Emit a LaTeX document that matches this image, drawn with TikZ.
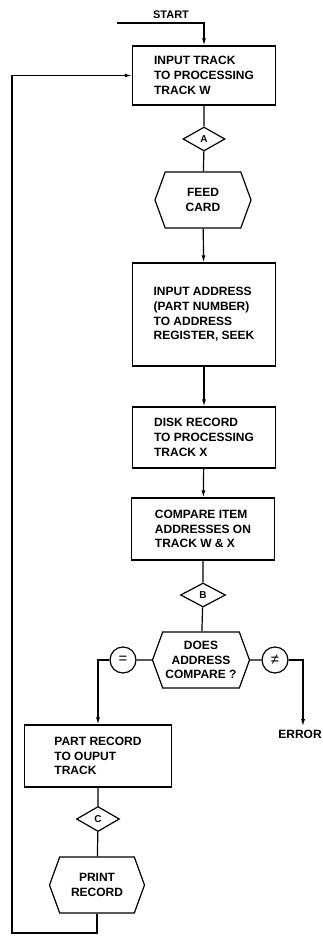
\documentclass[tikz,border=0pt]{standalone}
\usepackage{fontspec}
\setmainfont{Liberation Sans}
\usetikzlibrary{shapes.geometric, shapes.symbols, arrows.meta}
\tikzstyle{box}=[draw, line width=1.2pt, inner sep=0, align=left, font=\fontsize{12}{14.7}\selectfont\bfseries]
\tikzstyle{hexa}=[draw, line width=1.2pt, shape=signal, signal from=nowhere, signal to=west and east, signal pointer angle=140, inner sep=0, align=center, font=\fontsize{12}{14.5}\selectfont\bfseries]
\tikzstyle{conn}=[draw, line width=1.2pt, shape=diamond, inner sep=0, minimum width=42pt, minimum height=24pt, font=\fontsize{10}{12}\selectfont\bfseries]
\tikzstyle{rnd}=[draw, line width=1.2pt, shape=circle, inner sep=0, minimum size=26pt, font=\fontsize{15}{15}\selectfont]
\tikzstyle{arr}=[line width=1.2pt, -{Latex[length=7pt, width=4pt]}]
\tikzstyle{ln}=[line width=1.2pt]

\begin{document}
\begin{tikzpicture}[x=1pt, y=-1pt]
\useasboundingbox (0,0) rectangle (323,937);
\node at (171,15)[font=\fontsize{11}{13}\selectfont\bfseries](start){START};
\coordinate (s) at (117,23);
\node at (204,75.5)[box, minimum width=143pt, minimum height=59pt](in){INPUT TRACK\\TO PROCESSING\\TRACK W};
\node at (204,139)[conn](A){A};
\node at (203,200)[hexa, minimum width=96pt, minimum height=56pt](feed){FEED\\CARD};
\node at (204,314.5)[box, minimum width=143pt, minimum height=103pt](addr){INPUT ADDRESS\\(PART NUMBER)\\TO ADDRESS\\REGISTER, SEEK};
\node at (204,437.5)[box, minimum width=143pt, minimum height=61pt](disk){DISK RECORD\\TO PROCESSING\\TRACK X};
\node at (203,529)[box, minimum width=143pt, minimum height=62pt](cmp){COMPARE ITEM\\ADDRESSES ON\\TRACK W \& X};
\node at (203,595)[conn, minimum width=45pt](B){B};
\node at (201,660)[hexa, minimum width=97pt, minimum height=56pt](does){DOES\\ADDRESS\\COMPARE ?};
\node at (123,660)[rnd](eq){=};
\node at (275,660)[rnd](ne){≠};
\node at (98,756)[box, minimum width=147pt, minimum height=62pt](part){PART RECORD\\TO OUPUT\\TRACK};
\node at (98,819)[conn, minimum width=43pt, minimum height=25pt](C){C};
\node at (97,885)[hexa, minimum width=95pt, minimum height=56pt](print){PRINT\\RECORD};
\node at (300,734)[font=\fontsize{12}{14}\selectfont\bfseries](err){ERROR};
\coordinate (ecorner) at (303,660);
\coordinate (lb) at (12,933);
% main line
\draw[arr] (s) -| (in);
\draw[ln] (in)--(A)--(feed);
\draw[arr] (feed)--(addr);
\draw[arr] (addr)--(disk);
\draw[arr] (disk)--(cmp);
\draw[ln] (cmp)--(B)--(does);
% branches
\draw[ln] (does)--(eq);
\draw[arr] (eq) -| (part);
\draw[ln] (does)--(ne);
\draw[arr] (ne)--(ecorner)--(ecorner |- err.north);
\draw[ln] (part)--(C)--(print);
\draw[arr] (print) |- (lb) |- (in);
\end{tikzpicture}
\end{document}
